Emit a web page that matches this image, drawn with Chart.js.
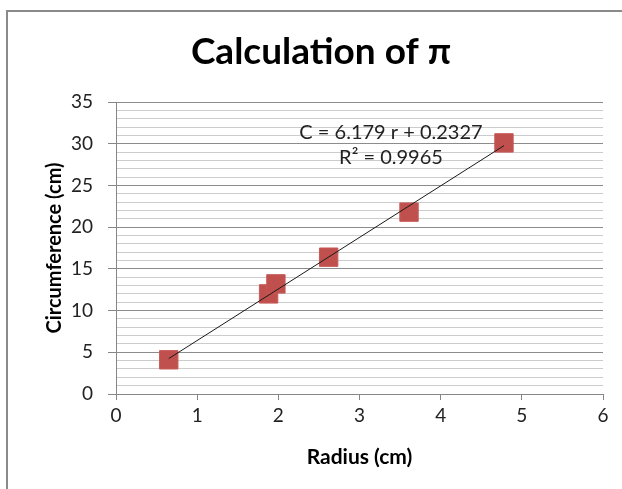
<!DOCTYPE html>
<html>
<head>
<meta charset="utf-8">
<script src="https://cdn.jsdelivr.net/npm/chart.js@4"></script>
<style>
html,body{margin:0;padding:0;background:#fff;}
#wrap{width:622px;height:489px;position:relative;}
</style>
</head>
<body>
<div id="wrap"><canvas id="c" width="622" height="489"></canvas></div>
<script>
// Data
const radius = [0.65, 1.88, 1.97, 2.62, 3.61, 4.78];
const circumference = [4.1, 12.0, 13.2, 16.4, 21.8, 30.1];
const trendSlope = 6.179;
const trendIntercept = 0.2327;
const rSquared = 0.9965;
const chartTitle = 'Calculation of \u03C0';
const xTicks = [0, 1, 2, 3, 4, 5, 6];
const yTickLabels = [0, 5, 10, 15, 20, 25, 30, 35];

const FONT = 'Lato, "Open Sans", sans-serif';
const xMin = Math.min(...radius), xMax = Math.max(...radius);
const trendData = [xMin, xMax].map(x => ({x: x, y: trendSlope * x + trendIntercept}));
const scatterData = radius.map((r, i) => ({x: r, y: circumference[i]}));

const framePlugin = {
  id: 'frame',
  beforeDraw(chart) {
    const ctx = chart.ctx;
    ctx.save();
    ctx.fillStyle = '#fff';
    ctx.fillRect(0, 0, chart.width, chart.height);
    ctx.strokeStyle = '#8a8a8a';
    ctx.lineWidth = 2;
    ctx.strokeRect(7, 11, 800, 700);
    ctx.restore();
  },
  afterDraw(chart) {
    const ctx = chart.ctx;
    const a = chart.chartArea;
    ctx.save();
    // chart title
    ctx.fillStyle = '#000';
    ctx.font = 'bold 37px ' + FONT;
    ctx.textAlign = 'center';
    ctx.textBaseline = 'middle';
    ctx.fillText(chartTitle, 321, 52);
    // trendline equation
    ctx.fillStyle = '#222';
    ctx.font = '20px ' + FONT;
    const cx = a.left + 275;
    ctx.fillText('C = ' + trendSlope + ' r + ' + trendIntercept, cx, a.top + 31);
    ctx.fillText('R\u00B2 = ' + rSquared, cx, a.top + 56);
    ctx.restore();
  }
};

new Chart(document.getElementById('c'), {
  type: 'scatter',
  data: {
    datasets: [
      {
        type: 'line',
        data: trendData,
        borderColor: '#1a1a1a',
        borderWidth: 1,
        pointRadius: 0,
        fill: false,
        order: 0
      },
      {
        data: scatterData,
        pointStyle: 'rect',
        pointRadius: 13,
        pointHoverRadius: 13,
        backgroundColor: '#c0504d',
        borderColor: '#c65a57',
        borderWidth: 1,
        order: 1
      }
    ]
  },
  options: {
    responsive: false,
    animation: false,
    events: [],
    layout: {padding: {left: 8, right: 19, top: 102, bottom: 0}},
    plugins: {
      legend: {display: false},
      tooltip: {enabled: false},
      title: {display: false}
    },
    scales: {
      x: {
        type: 'linear',
        min: 0, max: 6,
        afterFit(s) { s.height = 95; },
        afterBuildTicks(s) { s.ticks = xTicks.map(v => ({value: v})); },
        ticks: {
          color: '#222',
          font: {family: FONT, size: 19},
          padding: 4
        },
        grid: {drawOnChartArea: false, tickLength: 6, color: '#868686'},
        border: {color: '#868686', width: 1},
        title: {
          display: true,
          text: 'Radius (cm)',
          color: '#000',
          font: {family: FONT, size: 21, weight: 'bold', lineHeight: 1.2},
          padding: {bottom: 19}
        }
      },
      y: {
        type: 'linear',
        min: 0, max: 35,
        afterFit(s) { s.width = 108; },
        ticks: {
          stepSize: 1,
          autoSkip: false,
          color: '#222',
          font: {family: FONT, size: 19},
          padding: 15,
          callback: v => (yTickLabels.includes(v) ? String(v) : '')
        },
        grid: {
          tickLength: 8,
          color: c => (yTickLabels.includes(c.tick.value) ? '#8c8c8c' : '#cccccc'),
          tickColor: c => (yTickLabels.includes(c.tick.value) ? '#868686' : 'rgba(0,0,0,0)')
        },
        border: {color: '#868686', width: 1},
        title: {
          display: true,
          text: 'Circumference (cm)',
          color: '#000',
          font: {family: FONT, size: 20, weight: 'bold', lineHeight: 1.2},
          padding: {top: 35}
        }
      }
    }
  },
  plugins: [framePlugin]
});
</script>
</body>
</html>
